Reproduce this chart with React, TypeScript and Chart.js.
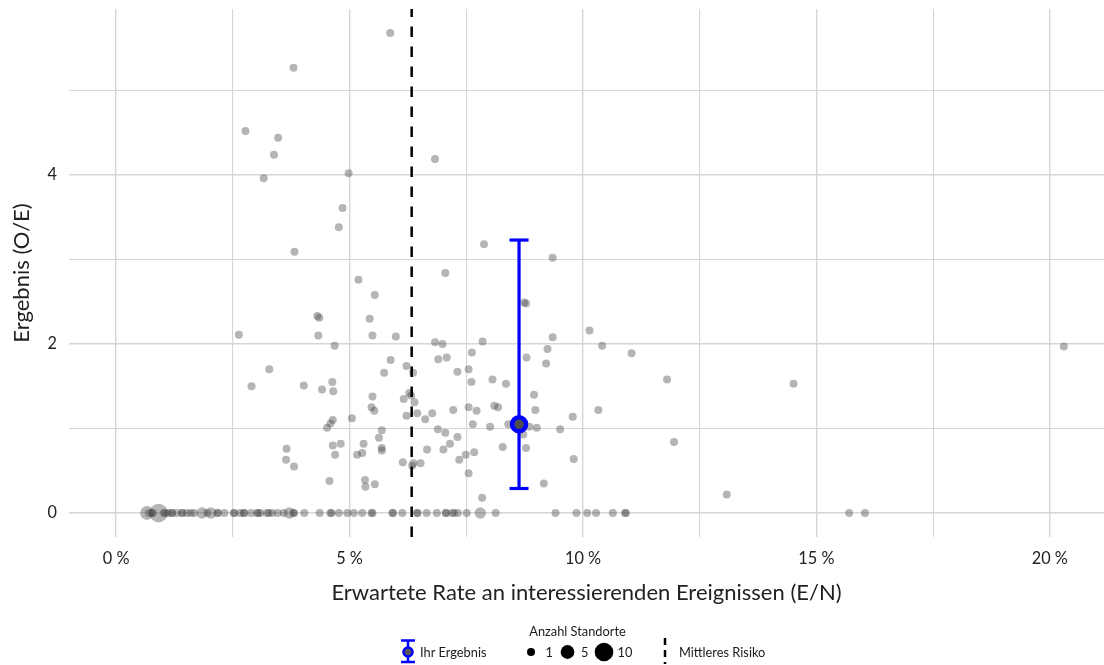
import React, { useEffect, useRef } from "react";
import { Chart, registerables } from "chart.js";

Chart.register(...registerables);

const FONT = "Lato, 'Open Sans', sans-serif";

// Sites with observed events (rate in %, O/E ratio)
const siteRate = [
  5.87, 3.8, 2.77, 3.47, 3.38, 3.16, 4.98, 6.83, 4.85, 4.77,
  3.82, 7.88, 9.35, 5.19, 7.05, 5.54, 4.31, 4.35, 5.43, 2.63,
  4.33, 5.49, 5.99, 4.68, 6.83, 6.99, 7.85, 5.88, 6.22, 3.28,
  5.74, 6.36, 2.9, 4.02, 4.63, 4.41, 4.65, 5.49, 6.28, 6.16,
  6.32, 6.39, 5.47, 5.53, 6.22, 6.45, 6.62, 6.77, 5.05, 4.64,
  4.59, 4.52, 6.89, 5.69, 5.63, 3.65, 3.64, 3.81, 4.64, 4.81,
  4.69, 5.3, 5.69, 5.69, 5.16, 5.27, 6.66, 6.14, 6.37, 6.34,
  6.52, 4.57, 5.33, 5.34, 5.54, 8.74, 8.78, 10.14, 9.35, 9.24,
  10.41, 11.04, 6.9, 7.08, 7.62, 8.79, 9.21, 7.31, 7.55, 7.61,
  8.06, 8.35, 8.95, 7.22, 7.55, 7.72, 8.1, 8.18, 8.98, 10.33,
  9.78, 7.64, 8.01, 8.4, 8.85, 9.01, 9.51, 7.05, 7.31, 7.15,
  7.01, 8.28, 8.72, 8.78, 7.67, 7.49, 7.35, 9.8, 7.55, 9.16,
  7.84, 11.8, 14.51, 11.95, 13.08, 20.3,
];
const siteOE = [
  5.68, 5.27, 4.52, 4.44, 4.24, 3.96, 4.02, 4.19, 3.61, 3.38,
  3.09, 3.18, 3.02, 2.76, 2.84, 2.58, 2.33, 2.31, 2.3, 2.11,
  2.1, 2.1, 2.09, 1.98, 2.02, 2.0, 2.03, 1.81, 1.74, 1.7,
  1.66, 1.66, 1.5, 1.51, 1.55, 1.46, 1.44, 1.38, 1.42, 1.35,
  1.39, 1.31, 1.25, 1.21, 1.15, 1.18, 1.11, 1.18, 1.12, 1.1,
  1.06, 1.01, 0.99, 0.98, 0.89, 0.76, 0.63, 0.55, 0.8, 0.82,
  0.69, 0.82, 0.77, 0.74, 0.69, 0.71, 0.75, 0.6, 0.59, 0.56,
  0.59, 0.38, 0.39, 0.31, 0.34, 2.49, 2.48, 2.16, 2.08, 1.94,
  1.98, 1.89, 1.82, 1.84, 1.9, 1.84, 1.77, 1.67, 1.7, 1.55,
  1.58, 1.53, 1.4, 1.22, 1.25, 1.21, 1.27, 1.25, 1.22, 1.22,
  1.14, 1.05, 1.02, 1.05, 1.02, 1.01, 0.99, 0.95, 0.9, 0.82,
  0.75, 0.78, 0.93, 0.77, 0.72, 0.69, 0.63, 0.64, 0.47, 0.35,
  0.18, 1.58, 1.53, 0.84, 0.22, 1.97,
];

// Sites without observed events (O/E = 0): rate in % and number of sites
const zeroRate = [
  0.66, 0.7, 0.77, 0.78, 0.91, 1.02, 1.05, 1.12, 1.19, 1.2,
  1.3, 1.41, 1.42, 1.52, 1.6, 1.67, 1.84, 1.95, 2.03, 2.17,
  2.18, 2.32, 2.52, 2.53, 2.66, 2.73, 2.75, 2.89, 3.02, 3.04,
  3.09, 3.23, 3.27, 3.34, 3.46, 3.59, 3.71, 3.8, 3.81, 4.03,
  4.36, 4.59, 4.61, 4.77, 4.95, 5.09, 5.27, 5.47, 5.49, 5.92,
  5.93, 6.13, 6.44, 6.46, 6.65, 6.87, 7.06, 7.07, 7.2, 7.24,
  7.32, 7.51, 7.8, 8.13, 9.41, 9.86, 10.09, 10.28, 10.64, 10.9,
  10.92, 15.7, 16.04,
];
const zeroCount = [
  5, 1, 1, 1, 10, 1, 1, 1, 1, 1,
  1, 1, 1, 1, 1, 1, 3, 1, 3, 1,
  1, 1, 1, 1, 1, 1, 1, 1, 1, 1,
  1, 1, 1, 1, 1, 1, 3, 1, 1, 1,
  1, 1, 1, 1, 1, 1, 1, 1, 1, 1,
  1, 1, 1, 1, 1, 1, 1, 1, 1, 1,
  1, 1, 3, 1, 1, 1, 1, 1, 1, 1,
  1, 1, 1,
];

// Own result
const ownRate = 8.63;
const ownOE = 1.05;
const ownLower = 0.29;
const ownUpper = 3.23;
const meanRisk = 6.33;

const xMin = -1.01;
const xMax = 21.16;
const yMin = -0.284;
const yMax = 5.964;
const xTickValues = [0, 2.5, 5, 7.5, 10, 12.5, 15, 17.5, 20];
const xLabeledTicks = [0, 5, 10, 15, 20];
const yTickValues = [0, 1, 2, 3, 4, 5];
const yLabeledTicks = [0, 2, 4];

const xTitle = "Erwartete Rate an interessierenden Ereignissen (E/N)";
const yTitle = "Ergebnis (O/E)";
const legendOwn = "Ihr Ergebnis";
const legendMean = "Mittleres Risiko";
const sizeLegendTitle = "Anzahl Standorte";
const sizeLegendValues = [1, 5, 10];

const POINT_COLOR = "rgba(70,70,70,0.4)";
const BLUE = "#0000ff";

function radiusFor(n: number) {
  return Math.sqrt(16 + (n - 1) * 7.83);
}

const legendPlugin = {
  id: "customLegend",
  afterDraw(chart: any) {
    const ctx = chart.ctx as CanvasRenderingContext2D;
    const ca = chart.chartArea;
    const cx = (ca.left + ca.right) / 2;
    ctx.save();
    ctx.fillStyle = "#1a1a1a";
    ctx.textBaseline = "middle";
    ctx.font = `12.8px ${FONT}`;
    ctx.textAlign = "center";
    ctx.fillText(sizeLegendTitle, cx - 9, 632);

    // own result icon
    const ix = cx - 178.5;
    const iy = 652;
    ctx.strokeStyle = BLUE;
    ctx.lineWidth = 2.5;
    ctx.beginPath();
    ctx.moveTo(ix, 640.5);
    ctx.lineTo(ix, 663);
    ctx.moveTo(ix - 7, 640.5);
    ctx.lineTo(ix + 7, 640.5);
    ctx.moveTo(ix - 7, 662);
    ctx.lineTo(ix + 7, 662);
    ctx.stroke();
    ctx.beginPath();
    ctx.arc(ix, iy, 4.5, 0, Math.PI * 2);
    ctx.fillStyle = "#555";
    ctx.fill();
    ctx.lineWidth = 2.5;
    ctx.stroke();

    ctx.fillStyle = "#1a1a1a";
    ctx.textAlign = "left";
    ctx.fillText(legendOwn, cx - 166.5, iy + 0.5);

    // size legend
    const dotX = [cx - 55.5, cx - 19, cx + 17.5];
    const txtX = [cx - 41, cx - 5.5, cx + 31];
    sizeLegendValues.forEach((v, i) => {
      ctx.beginPath();
      ctx.fillStyle = "#000";
      ctx.arc(dotX[i], iy, radiusFor(v), 0, Math.PI * 2);
      ctx.fill();
      ctx.fillStyle = "#1a1a1a";
      ctx.fillText(String(v), txtX[i], iy + 0.5);
    });

    // mean risk icon
    const mx = cx + 78.5;
    ctx.strokeStyle = "#000";
    ctx.lineWidth = 2.5;
    ctx.setLineDash([7, 5]);
    ctx.beginPath();
    ctx.moveTo(mx, 638);
    ctx.lineTo(mx, 664);
    ctx.stroke();
    ctx.setLineDash([]);
    ctx.fillText(legendMean, cx + 92.5, iy + 0.5);
    ctx.restore();
  },
};

export default function App() {
  const canvasRef = useRef<HTMLCanvasElement | null>(null);

  useEffect(() => {
    document.body.style.margin = "0";
    const canvas = canvasRef.current;
    if (!canvas) return;

    const grayPoints = [
      ...siteRate.map((r, i) => ({ x: r, y: siteOE[i], n: 1 })),
      ...zeroRate.map((r, i) => ({ x: r, y: 0, n: zeroCount[i] })),
    ];

    const chart = new Chart(canvas, {
      type: "scatter",
      data: {
        datasets: [
          {
            label: "Standorte",
            data: grayPoints,
            backgroundColor: POINT_COLOR,
            borderWidth: 0,
            pointRadius: (c: any) => radiusFor(grayPoints[c.dataIndex]?.n ?? 1),
            pointHoverRadius: (c: any) => radiusFor(grayPoints[c.dataIndex]?.n ?? 1),
            order: 3,
          } as any,
          {
            label: legendMean,
            data: [
              { x: meanRisk, y: yMin },
              { x: meanRisk, y: yMax },
            ],
            showLine: true,
            borderColor: "#000",
            borderWidth: 2.5,
            borderDash: [10.5, 9.5],
            pointRadius: 0,
            order: 2,
          } as any,
          {
            label: "CI",
            data: [
              { x: ownRate, y: ownLower },
              { x: ownRate, y: ownUpper },
            ],
            showLine: true,
            borderColor: BLUE,
            borderWidth: 3.2,
            pointStyle: "line",
            pointRadius: 9.5,
            pointBorderColor: BLUE,
            pointBorderWidth: 3.2,
            order: 1,
          } as any,
          {
            label: legendOwn,
            data: [{ x: ownRate, y: ownOE }],
            backgroundColor: "#4d4d4d",
            borderColor: BLUE,
            borderWidth: 4.5,
            pointRadius: 7,
            order: 0,
          } as any,
        ],
      },
      options: {
        animation: false,
        responsive: false,
        events: [],
        layout: { autoPadding: false, padding: { top: 9, right: 0, left: 0, bottom: 0 } },
        plugins: {
          legend: { display: false },
          tooltip: { enabled: false },
        },
        scales: {
          x: {
            type: "linear",
            min: xMin,
            max: xMax,
            afterBuildTicks: (s: any) => {
              s.ticks = xTickValues.map((v) => ({ value: v }));
            },
            afterFit: (s: any) => {
              s.height = 128;
              s.paddingLeft = 0;
              s.paddingRight = 0;
            },
            ticks: {
              autoSkip: false,
              maxRotation: 0,
              padding: 12,
              color: "#222",
              font: { family: FONT, size: 16.3 },
              callback: (v: any) => (xLabeledTicks.includes(Number(v)) ? `${v} %` : ""),
            },
            grid: {
              color: "#d6d6d6",
              lineWidth: (c: any) => (c.tick && c.tick.value % 5 === 0 ? 1.4 : 1.1),
              drawTicks: false,
            },
            border: { display: false },
            title: {
              display: true,
              text: xTitle,
              color: "#222",
              font: { family: FONT, size: 22 },
              padding: { top: 0, bottom: 59 },
            },
          },
          y: {
            type: "linear",
            min: yMin,
            max: yMax,
            afterBuildTicks: (s: any) => {
              s.ticks = yTickValues.map((v) => ({ value: v }));
            },
            afterFit: (s: any) => {
              s.width = 69;
              s.paddingTop = 0;
              s.paddingBottom = 0;
            },
            ticks: {
              autoSkip: false,
              padding: 12,
              color: "#222",
              font: { family: FONT, size: 16.3 },
              callback: (v: any) => (yLabeledTicks.includes(Number(v)) ? String(v) : ""),
            },
            grid: {
              color: "#d6d6d6",
              lineWidth: (c: any) => (c.tick && c.tick.value % 2 === 0 ? 1.4 : 1.1),
              drawTicks: false,
            },
            border: { display: false },
            title: {
              display: true,
              text: yTitle,
              color: "#222",
              font: { family: FONT, size: 22 },
              padding: { top: 9, bottom: 0 },
            },
          },
        },
      } as any,
      plugins: [legendPlugin],
    });

    return () => chart.destroy();
  }, []);

  return (
    <div style={{ width: 1104, height: 665 }}>
      <canvas ref={canvasRef} width={1104} height={665} style={{ display: "block" }} />
    </div>
  );
}
